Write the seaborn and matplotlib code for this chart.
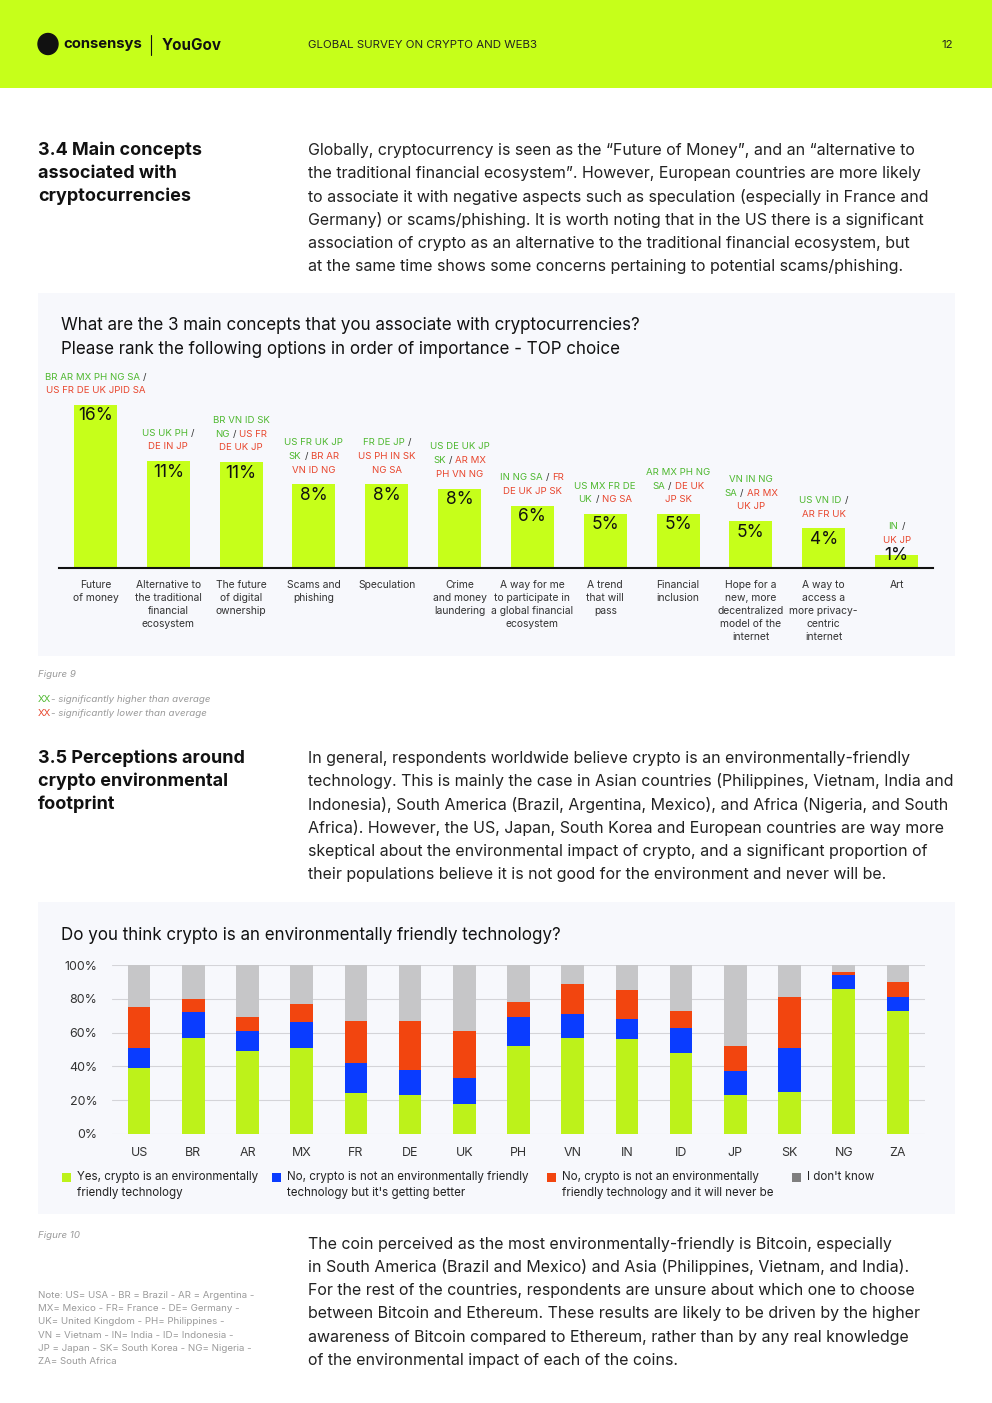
import numpy as np
import pandas as pd
import matplotlib
matplotlib.use("Agg")
import matplotlib.pyplot as plt
import seaborn as sns
from matplotlib.patches import Rectangle, Ellipse
from matplotlib.lines import Line2D
from matplotlib.offsetbox import TextArea, HPacker, VPacker, AnnotationBbox
from matplotlib.textpath import TextPath
from matplotlib.font_manager import FontProperties

# ---------------- data ----------------
concepts = ["Future\nof money", "Alternative to\nthe traditional\nfinancial\necosystem",
            "The future\nof digital\nownership", "Scams and\nphishing", "Speculation",
            "Crime\nand money\nlaundering",
            "A way for me\nto participate in\na global financial\necosystem",
            "A trend\nthat will\npass", "Financial\ninclusion",
            "Hope for a\nnew, more\ndecentralized\nmodel of the\ninternet",
            "A way to\naccess a\nmore privacy-\ncentric\ninternet", "Art"]
concept_share = [16.0, 10.5, 10.4, 8.2, 8.2, 7.8, 6.1, 5.3, 5.3, 4.6, 3.9, 1.3]
concept_labels = ["16%", "11%", "11%", "8%", "8%", "8%", "6%", "5%", "5%", "5%", "4%", "1%"]
# g = significantly higher, r = significantly lower, k = separator
concept_sig = [
    [[("BR AR MX PH NG SA", "g"), ("/", "k")], [("US FR DE UK JPID SA", "r")]],
    [[("US UK PH", "g"), ("/", "k")], [("DE IN JP", "r")]],
    [[("BR VN ID SK", "g")], [("NG", "g"), ("/", "k"), ("US FR", "r")], [("DE UK JP", "r")]],
    [[("US FR UK JP", "g")], [("SK", "g"), ("/", "k"), ("BR AR", "r")], [("VN ID NG", "r")]],
    [[("FR DE JP", "g"), ("/", "k")], [("US PH IN SK", "r")], [("NG SA", "r")]],
    [[("US DE UK JP", "g")], [("SK", "g"), ("/", "k"), ("AR MX", "r")], [("PH VN NG", "r")]],
    [[("IN NG SA", "g"), ("/", "k"), ("FR", "r")], [("DE UK JP SK", "r")]],
    [[("US MX FR DE", "g")], [("UK", "g"), ("/", "k"), ("NG SA", "r")]],
    [[("AR MX PH NG", "g")], [("SA", "g"), ("/", "k"), ("DE UK", "r")], [("JP SK", "r")]],
    [[("VN IN NG", "g")], [("SA", "g"), ("/", "k"), ("AR MX", "r")], [("UK JP", "r")]],
    [[("US VN ID", "g"), ("/", "k")], [("AR FR UK", "r")]],
    [[("IN", "g"), ("/", "k")], [("UK JP", "r")]],
]

countries = ["US", "BR", "AR", "MX", "FR", "DE", "UK", "PH", "VN", "IN", "ID", "JP", "SK", "NG", "ZA"]
yes_friendly = [39, 57, 49, 51, 24, 23, 18, 52, 57, 56, 48, 23, 25, 86, 73]
no_better = [12, 15, 12, 15, 18, 15, 15, 17, 14, 12, 15, 14, 26, 8, 8]
no_never = [24, 8, 8, 11, 25, 29, 28, 9, 18, 17, 10, 15, 30, 2, 9]
dont_know = [25, 20, 31, 23, 33, 33, 39, 22, 11, 15, 27, 48, 19, 4, 10]
env_ticks = [0, 20, 40, 60, 80, 100]
legend_labels = ["Yes, crypto is an environmentally\nfriendly technology",
                 "No, crypto is not an environmentally friendly\ntechnology but it's getting better",
                 "No, crypto is not an environmentally\nfriendly technology and it will never be",
                 "I don't know"]

para1 = ["Globally, cryptocurrency is seen as the \u201cFuture of Money\u201d, and an \u201calternative to",
         "the traditional financial ecosystem\u201d. However, European countries are more likely",
         "to associate it with negative aspects such as speculation (especially in France and",
         "Germany) or scams/phishing. It is worth noting that in the US there is a significant",
         "association of crypto as an alternative to the traditional financial ecosystem, but",
         "at the same time shows some concerns pertaining to potential scams/phishing."]
para2 = ["In general, respondents worldwide believe crypto is an environmentally-friendly",
         "technology. This is mainly the case in Asian countries (Philippines, Vietnam, India and",
         "Indonesia), South America (Brazil, Argentina, Mexico), and Africa (Nigeria, and South",
         "Africa). However, the US, Japan, South Korea and European countries are way more",
         "skeptical about the environmental impact of crypto, and a significant proportion of",
         "their populations believe it is not good for the environment and never will be."]
para3 = ["The coin perceived as the most environmentally-friendly is Bitcoin, especially",
         "in South America (Brazil and Mexico) and Asia (Philippines, Vietnam, and India).",
         "For the rest of the countries, respondents are unsure about which one to choose",
         "between Bitcoin and Ethereum. These results are likely to be driven by the higher",
         "awareness of Bitcoin compared to Ethereum, rather than by any real knowledge",
         "of the environmental impact of each of the coins."]
head1 = ["3.4 Main concepts", "associated with", "cryptocurrencies"]
head2 = ["3.5 Perceptions around", "crypto environmental", "footprint"]
note_lines = ["Note: US= USA - BR = Brazil - AR = Argentina -",
              "MX= Mexico - FR= France - DE= Germany -",
              "UK= United Kingdom - PH= Philippines -",
              "VN = Vietnam - IN= India - ID= Indonesia -",
              "JP = Japan - SK= South Korea - NG= Nigeria -",
              "ZA= South Africa"]

# ---------------- style ----------------
sns.set_style("white")
FONT = "Inter"
plt.rcParams["font.family"] = [FONT, "DejaVu Sans"]

LIME = "#C6FF1A"
GREEN_BAR = "#BDF21A"
BLUE = "#0A3CFF"
RED = "#F2450F"
GRAY = "#C6C6C8"
PANEL = "#F7F8FC"
SIG_G = "#4DB82E"
SIG_R = "#E8452C"
DARK = "#222222"
MUTED = "#9A9A9A"
sig_colors = {"g": SIG_G, "r": SIG_R, "k": "#333333"}

W, H = 992, 1403
fig = plt.figure(figsize=(W / 100, H / 100), dpi=100)
fig.patch.set_facecolor("white")


def fx(x):
    return x / W


def fy(y):
    return 1 - y / H


def fit(s, px, weight="normal", style="normal"):
    fp = FontProperties(family=FONT, weight=weight, style=style, size=10)
    w = TextPath((0, 0), s, prop=fp).get_extents().width
    return 10 * px / (w * 100 / 72)


def txt(x, y, s, **kw):
    kw.setdefault("va", "center")
    kw.setdefault("ha", "left")
    return fig.text(fx(x), fy(y), s, **kw)


def rect(x0, y0, x1, y1, color, z=-1):
    fig.add_artist(Rectangle((fx(x0), fy(y1)), (x1 - x0) / W, (y1 - y0) / H,
                             transform=fig.transFigure, color=color, zorder=z, lw=0))


# font sizes
fs_para = min(fit(para1[0], 620), fit(para2[1], 643))
fs_head = fit(head1[0], 162, weight="bold")
fs_title = fit("What are the 3 main concepts that you associate with cryptocurrencies?", 580)
fs_cat = fit("to participate in", 75)
fs_ann = fit("US FR DE UK JPID SA", 98)
fs_val = fit("16%", 32)
fs_tick = fit("100%", 31)
fs_leg = fit("No, crypto is not an environmentally friendly", 241)
fs_note = fit(note_lines[0], 215)
fs_hdr = fit("GLOBAL SURVEY ON CRYPTO AND WEB3", 229)

# ---------------- header ----------------
rect(0, 0, W, 88, LIME)
fig.add_artist(Ellipse((fx(48), fy(44)), 20 / W, 21 / H, transform=fig.transFigure,
                       color="#111111", zorder=2))
txt(63, 44, "consensys", fontsize=fit("consensys", 78, weight="bold"), weight="bold", color="#111111")
fig.add_artist(Line2D([fx(151), fx(151)], [fy(35), fy(55)], transform=fig.transFigure,
                      color="#111111", lw=0.8))
txt(162, 45, "YouGov", fontsize=fit("YouGov", 59, weight="bold"), weight="bold", color="#111111")
txt(308, 45, "GLOBAL SURVEY ON CRYPTO AND WEB3", fontsize=fs_hdr, color="#222222")
txt(953, 45, "12", fontsize=fs_hdr, color="#222222", ha="right")

# ---------------- section 3.4 text ----------------
for k, line in enumerate(head1):
    txt(38, 150 + 23.3 * k, line, fontsize=fs_head, weight="bold", color="#111111")
for k, line in enumerate(para1):
    txt(308, 150 + 23.3 * k, line, fontsize=fs_para, color=DARK)

# ---------------- panel 1 ----------------
rect(38, 293, 955, 656, PANEL)
txt(61, 325, "What are the 3 main concepts that you associate with cryptocurrencies?",
    fontsize=fs_title, color="#111111")
txt(61, 349, "Please rank the following options in order of importance - TOP choice",
    fontsize=fs_title, color="#111111")

ax1 = fig.add_axes([fx(59), fy(568), (933 - 59) / W, (568 - 370) / H])
ax1.set_facecolor("none")
df1 = pd.DataFrame({"concept": concepts, "share": concept_share})
sns.barplot(data=df1, x="concept", y="share", color=LIME, saturation=1, width=0.59,
            errorbar=None, linewidth=0, ax=ax1)
ax1.set_ylim(0, 198 / 10.19)
ax1.set_xlabel("")
ax1.set_ylabel("")
ax1.set_yticks([])
for s in ["left", "top", "right"]:
    ax1.spines[s].set_visible(False)
ax1.spines["bottom"].set_linewidth(1.5)
ax1.spines["bottom"].set_color("#111111")
ax1.tick_params(axis="x", length=0, pad=8.5, labelsize=fs_cat, labelcolor="#333333")
for lbl in ax1.get_xticklabels():
    lbl.set_linespacing(1.38)
    lbl.set_va("top")

for i, (v, lab) in enumerate(zip(concept_share, concept_labels)):
    ax1.text(i, max(v - 1.08, 1.2), lab, ha="center", va="center", fontsize=fs_val, color="#111111")
    rows = []
    for line in concept_sig[i]:
        segs = [TextArea(t, textprops=dict(color=sig_colors[c], fontsize=fs_ann)) for t, c in line]
        rows.append(HPacker(children=segs, align="baseline", pad=0, sep=2.2))
    box = VPacker(children=rows, align="center", pad=0, sep=3.4)
    ab = AnnotationBbox(box, (i, v), xybox=(0, 7), xycoords="data", boxcoords="offset points",
                        box_alignment=(0.5, 0), frameon=False, pad=0, annotation_clip=False)
    ax1.add_artist(ab)

txt(38, 675, "Figure 9", fontsize=fs_note, style="italic", color=MUTED)
txt(38, 700, "XX", fontsize=fs_note, color=SIG_G)
txt(51, 700, "- significantly higher than average", fontsize=fs_note, style="italic", color=MUTED)
txt(38, 713, "XX", fontsize=fs_note, color=SIG_R)
txt(51, 713, "- significantly lower than average", fontsize=fs_note, style="italic", color=MUTED)

# ---------------- section 3.5 text ----------------
for k, line in enumerate(head2):
    txt(38, 758 + 23.3 * k, line, fontsize=fs_head, weight="bold", color="#111111")
for k, line in enumerate(para2):
    txt(308, 758 + 23.3 * k, line, fontsize=fs_para, color=DARK)

# ---------------- panel 2 ----------------
rect(38, 902, 955, 1214, PANEL)
txt(61, 935, "Do you think crypto is an environmentally friendly technology?",
    fontsize=fs_title, color="#111111")

ax2 = fig.add_axes([fx(112), fy(1134), (925 - 112) / W, (1134 - 965) / H])
ax2.set_facecolor("none")
df2 = pd.DataFrame({"country": countries, "yes": yes_friendly, "better": no_better,
                    "never": no_never, "dk": dont_know})
df2["c_yes"] = df2["yes"]
df2["c_better"] = df2["c_yes"] + df2["better"]
df2["c_never"] = df2["c_better"] + df2["never"]
df2["c_dk"] = df2["c_never"] + df2["dk"]
for col, colr in [("c_dk", GRAY), ("c_never", RED), ("c_better", BLUE), ("c_yes", GREEN_BAR)]:
    sns.barplot(data=df2, x="country", y=col, color=colr, saturation=1, width=0.42,
                errorbar=None, linewidth=0, ax=ax2, zorder=3)
ax2.set_ylim(0, 100)
ax2.set_yticks(env_ticks)
ax2.set_yticklabels([f"{t}%" for t in env_ticks])
ax2.set_xlabel("")
ax2.set_ylabel("")
ax2.yaxis.grid(True, color="#D4D4D8", lw=0.8, zorder=0)
ax2.set_axisbelow(True)
for s in ax2.spines.values():
    s.set_visible(False)
ax2.tick_params(axis="y", length=0, pad=10.5, labelsize=fs_tick, labelcolor="#333333")
ax2.tick_params(axis="x", length=0, pad=9, labelsize=fs_tick, labelcolor="#333333")

leg_colors = [GREEN_BAR, BLUE, RED, "#7F7F7F"]
leg_x = [62, 272, 547, 792]
for lx, lc, ll in zip(leg_x, leg_colors, legend_labels):
    rect(lx, 1173, lx + 9, 1182, lc, z=2)
    txt(lx + 15, 1171, ll, fontsize=fs_leg, color="#222222", va="top", linespacing=1.45)

# ---------------- bottom ----------------
txt(38, 1236, "Figure 10", fontsize=fs_note, style="italic", color=MUTED)
for k, line in enumerate(note_lines):
    txt(38, 1295 + 13.4 * k, line, fontsize=fs_note, color=MUTED)
for k, line in enumerate(para3):
    txt(308, 1244 + 23.3 * k, line, fontsize=fs_para, color=DARK)

fig.savefig("out.png", dpi=100, facecolor="white")
